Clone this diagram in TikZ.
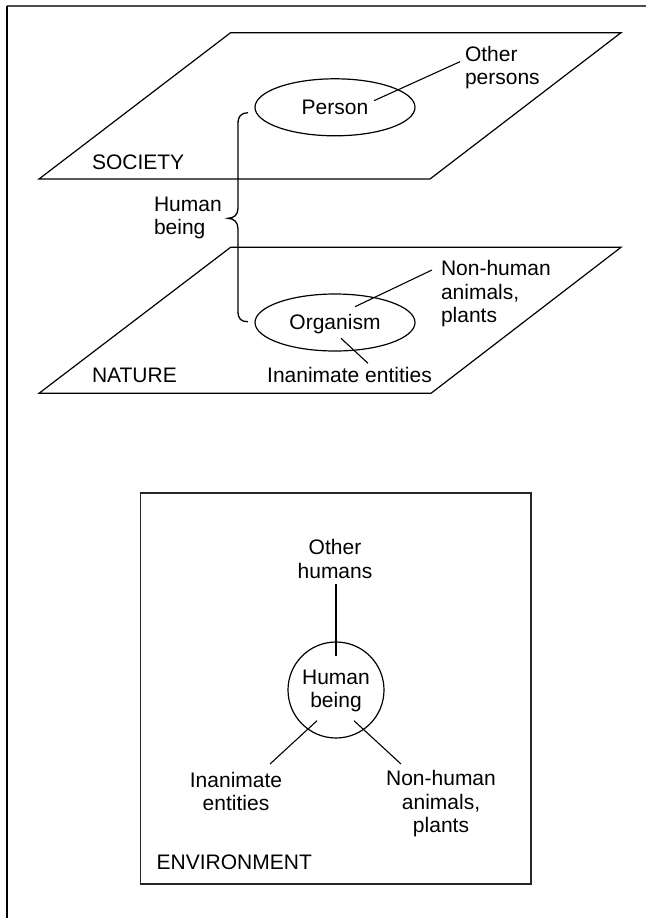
\documentclass[tikz,border=0pt]{standalone}
\usepackage{fontspec}
\setmainfont{Liberation Sans}
\usetikzlibrary{shapes.geometric}
\tikzset{
  txt/.style={font=\fontsize{21}{23.5}\selectfont, inner sep=0pt, outer sep=0pt},
  one/.style={txt, text height=15pt, text depth=0pt},
  plane/.style={draw=black, line width=1.2pt, line join=miter},
  conn/.style={draw=black, line width=1.1pt},
  oval/.style={ellipse, draw=black, line width=1.2pt, minimum width=160pt, minimum height=57pt, inner sep=0pt, txt},
  frameline/.style={line width=2pt},
}
\begin{document}
\begin{tikzpicture}[x=1pt,y=-1pt]
\useasboundingbox (0,0) rectangle (648,918);
% outer frame (top and left only)
\coordinate (f0) at (6.5,6);
\coordinate (f1) at (646,6);
\coordinate (f2) at (6.5,918);
\draw[frameline, draw=black!70] (f0) -- (f1);
\draw[frameline, draw=black] (f0) -- (f2);

% SOCIETY plane
\coordinate (s1) at (230.6,32.7);
\coordinate (s2) at (621,32.7);
\coordinate (s3) at (430,179);
\coordinate (s4) at (39,179);
\draw[plane] (s1) -- (s2) -- (s3) -- (s4) -- cycle;

% NATURE plane
\coordinate (n1) at (230.6,247.3);
\coordinate (n2) at (621,247.3);
\coordinate (n3) at (431,393.3);
\coordinate (n4) at (39,393.3);
\draw[plane] (n1) -- (n2) -- (n3) -- (n4) -- cycle;

% Society contents
\node[oval] (person) at (335,107.3) {};
\node[one] (personT) at (335,107.3) {Person};
\node[txt, align=left, anchor=west] (others) at (465,67.5) {Other\\persons};
\node[one, anchor=west] (society) at (92,161.7) {SOCIETY};
\coordinate (pA) at (374,100.7);
\coordinate (pB) at (460,61.7);
\draw[conn] (pA) -- (pB);

% Nature contents
\node[oval] (organism) at (335,322.5) {};
\node[one] (organismT) at (335,321.7) {Organism};
\node[txt, align=left, anchor=west] (nonhuman) at (441,294) {Non-human\\animals,\\plants};
\node[one] (inanim) at (349.5,375) {Inanimate entities};
\node[one, anchor=west] (nature) at (92,375) {NATURE};
\coordinate (oA) at (355,306.7);
\coordinate (oB) at (432,270);
\draw[conn] (oA) -- (oB);
\coordinate (oC) at (341,338.3);
\coordinate (oD) at (368,363.3);
\draw[conn] (oC) -- (oD);

% Brace and Human being
\coordinate (bt) at (248,112.7);
\coordinate (bb) at (248,321.7);
\coordinate (btip) at (228,218.3);
\draw[conn, line width=1.3pt] (bt) .. controls (241,113) and (238,116) .. (238,124)
  -- (238,208) .. controls (238,215) and (234,218) .. (btip)
  .. controls (234,218.6) and (238,222) .. (238,229)
  -- (238,311) .. controls (238,319) and (241,321.7) .. (bb);
\node[txt, align=left, anchor=west] (hbeing) at (154,218) {Human\\being};

% ENVIRONMENT box
\coordinate (e1) at (140.5,493);
\coordinate (e2) at (531,884);
\draw[line width=1.3pt, draw=black!85] (e1) rectangle (e2);
\node[one, anchor=west] (env) at (156.7,861.7) {ENVIRONMENT};

\node[circle, draw=black, line width=1.2pt, minimum size=96pt, inner sep=0pt] (hb) at (336,690) {};
\node[txt, align=center] (hbT) at (336,691) {Human\\being};
\node[txt, align=center] (otherh) at (335,559) {Other\\humans};
\node[txt, align=center] (inanB) at (236,791.5) {Inanimate\\entities};
\node[txt, align=center] (nonhB) at (441,804) {Non-human\\animals,\\plants};

\coordinate (h1) at (336,584);
\coordinate (h2) at (336,656);
\draw[conn] (h1) -- (h2);
\coordinate (h3) at (270,764);
\coordinate (h4) at (317,720.7);
\draw[conn] (h3) -- (h4);
\coordinate (h5) at (354,720.7);
\coordinate (h6) at (401,764);
\draw[conn] (h5) -- (h6);
\end{tikzpicture}
\end{document}
